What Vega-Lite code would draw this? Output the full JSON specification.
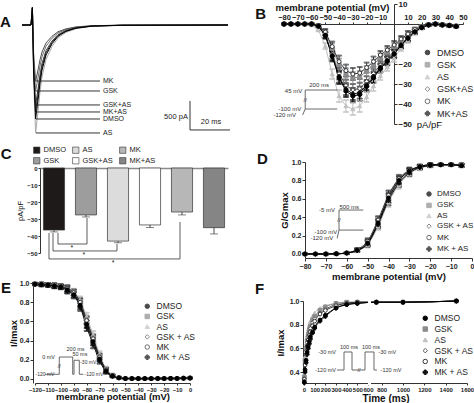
{
 "$schema": "https://vega.github.io/schema/vega-lite/v6.json",
 "padding": 0,
 "background": "white",
 "columns": 2,
 "spacing": 0,
 "bounds": "flush",
 "resolve": {
  "scale": {"x": "independent", "y": "independent", "stroke": "independent", "fill": "independent", "shape": "independent", "color": "independent"},
  "legend": {"stroke": "independent", "fill": "independent", "shape": "independent", "color": "independent"}
 },
 "config": {
  "font": "Liberation Sans",
  "view": {"stroke": null},
  "axis": {"grid": false, "labelFlush": false, "labelOverlap": false, "labelBound": false, "domainColor": "#333", "tickColor": "#333", "labelColor": "#222", "titleColor": "#111", "labelFontSize": 7, "labelFontWeight": "bold", "tickSize": 3, "labelPadding": 1, "titleFontSize": 9.5, "titleFontWeight": "bold"},
  "legend": {"labelColor": "#222", "symbolStrokeWidth": 1, "labelFontWeight": "normal"},
  "text": {"font": "Liberation Sans"}
 },
 "concat": [
  {
   "width": 237, "height": 134,
   "layer": [
    {
     "data": {"values": [
      {"t":0,"MK":0,"GSK":0,"GSK+AS":0,"MK+AS":0,"DMSO":0,"AS":0},
      {"t":4.5,"MK":0,"GSK":0,"GSK+AS":0,"MK+AS":0,"DMSO":0,"AS":0},
      {"t":5.2,"MK":300,"GSK":300,"GSK+AS":300,"MK+AS":300,"DMSO":300,"AS":300},
      {"t":5.8,"MK":-485,"GSK":-570,"GSK+AS":-690,"MK+AS":-750,"DMSO":-810,"AS":-930},
      {"t":6.8,"MK":-970,"GSK":-1140,"GSK+AS":-1380,"MK+AS":-1500,"DMSO":-1620,"AS":-1860},
      {"t":8,"MK":-776,"GSK":-912,"GSK+AS":-1104,"MK+AS":-1200,"DMSO":-1296,"AS":-1488},
      {"t":9,"MK":-601,"GSK":-707,"GSK+AS":-856,"MK+AS":-930,"DMSO":-1004,"AS":-1153},
      {"t":10,"MK":-466,"GSK":-547,"GSK+AS":-662,"MK+AS":-720,"DMSO":-778,"AS":-893},
      {"t":12,"MK":-310,"GSK":-365,"GSK+AS":-442,"MK+AS":-480,"DMSO":-518,"AS":-595},
      {"t":15,"MK":-194,"GSK":-228,"GSK+AS":-276,"MK+AS":-300,"DMSO":-324,"AS":-372},
      {"t":18,"MK":-116,"GSK":-137,"GSK+AS":-166,"MK+AS":-180,"DMSO":-194,"AS":-223},
      {"t":22,"MK":-66,"GSK":-78,"GSK+AS":-94,"MK+AS":-102,"DMSO":-110,"AS":-126},
      {"t":27,"MK":-33,"GSK":-39,"GSK+AS":-47,"MK+AS":-51,"DMSO":-55,"AS":-63},
      {"t":35,"MK":-12,"GSK":-14,"GSK+AS":-17,"MK+AS":-18,"DMSO":-19,"AS":-22},
      {"t":50,"MK":-3,"GSK":-3,"GSK+AS":-4,"MK+AS":-5,"DMSO":-5,"AS":-6},
      {"t":103,"MK":0,"GSK":0,"GSK+AS":0,"MK+AS":0,"DMSO":0,"AS":0}
     ]},
     "transform": [{"fold": ["AS","GSK","MK","GSK+AS","MK+AS","DMSO"], "as": ["g","i"]}],
     "mark": {"type": "line", "strokeWidth": 1},
     "encoding": {
      "x": {"field": "t", "type": "quantitative", "scale": {"domain": [0,103], "range": [22,228], "nice": false, "zero": false}, "axis": null},
      "y": {"field": "i", "type": "quantitative", "scale": {"domain": [-1897,345], "range": [133,3], "nice": false, "zero": false}, "axis": null},
      "stroke": {"field": "g", "type": "nominal", "scale": {"domain": ["AS","GSK","MK","GSK+AS","MK+AS","DMSO"], "range": ["#a8a8a8","#707070","#505050","#404040","#202020","#000000"]}, "legend": null}
     }
    },
    {
     "data": {"values": [{"g":"MK","p":-966},{"g":"GSK","p":-1138},{"g":"GSK+AS","p":-1379},{"g":"MK+AS","p":-1500},{"g":"DMSO","p":-1621},{"g":"AS","p":-1862}]},
     "layer": [
      {"mark": {"type": "rule", "color": "#333", "strokeWidth": 1},
       "encoding": {"x": {"datum": 7, "type": "quantitative"}, "x2": {"datum": 39}, "y": {"field": "p", "type": "quantitative"}}},
      {"mark": {"type": "text", "align": "left", "baseline": "middle", "fontSize": 7, "color": "#222"},
       "encoding": {"x": {"datum": 40.5, "type": "quantitative"}, "y": {"field": "p", "type": "quantitative"}, "text": {"field": "g"}}}
     ]
    },
    {
     "data": {"values": [{"x":84,"x2":84,"y":-1310,"y2":-1810},{"x":84,"x2":104,"y":-1810,"y2":-1810}]},
     "mark": {"type": "rule", "color": "#333", "strokeWidth": 1},
     "encoding": {"x": {"field": "x", "type": "quantitative"}, "x2": {"field": "x2"}, "y": {"field": "y", "type": "quantitative"}, "y2": {"field": "y2"}}
    },
    {
     "data": {"values": [{"x":77,"y":-1586,"s":"500 pA"},{"x":94.5,"y":-1672,"s":"20 ms"}]},
     "mark": {"type": "text", "fontSize": 7.5, "color": "#222", "baseline": "middle"},
     "encoding": {"x": {"field": "x", "type": "quantitative"}, "y": {"field": "y", "type": "quantitative"}, "text": {"field": "s"}}
    },
    {
     "data": {"values": [{}]},
     "mark": {"type": "text", "text": "A", "fontSize": 15, "fontWeight": "bold", "align": "left", "baseline": "alphabetic", "color": "#111"},
     "encoding": {"x": {"datum": -11, "type": "quantitative"}, "y": {"datum": -34.5, "type": "quantitative"}}
    }
   ]
  },
  {
   "width": 237, "height": 134,
   "layer": [
    {
     "data": {"values": [
      {"v":-80,"DMSO":0,"GSK":0,"AS":0,"GSK+AS":0,"MK":0,"MK+AS":0,"e":0.3},
      {"v":-75,"DMSO":0,"GSK":0,"AS":0,"GSK+AS":0,"MK":0,"MK+AS":0,"e":0.3},
      {"v":-70,"DMSO":0,"GSK":0,"AS":0,"GSK+AS":0,"MK":0,"MK+AS":0,"e":0.3},
      {"v":-65,"DMSO":0,"GSK":0,"AS":0,"GSK+AS":0,"MK":0,"MK+AS":0,"e":0.3},
      {"v":-60,"DMSO":0,"GSK":0,"AS":-0.5,"GSK+AS":0,"MK":0,"MK+AS":0,"e":0.4},
      {"v":-55,"DMSO":-1.1,"GSK":-0.8,"AS":-3,"GSK+AS":-1,"MK":-0.8,"MK+AS":-1,"e":0.6},
      {"v":-50,"DMSO":-5.8,"GSK":-4.3,"AS":-11,"GSK+AS":-5.3,"MK":-4,"MK+AS":-5.6,"e":1.5},
      {"v":-45,"DMSO":-16.2,"GSK":-12.2,"AS":-25,"GSK+AS":-14.9,"MK":-11.3,"MK+AS":-15.8,"e":2.5},
      {"v":-40,"DMSO":-27,"GSK":-20.3,"AS":-36,"GSK+AS":-24.8,"MK":-18.8,"MK+AS":-26.3,"e":3},
      {"v":-35,"DMSO":-33.5,"GSK":-25.1,"AS":-41,"GSK+AS":-30.7,"MK":-23.3,"MK+AS":-32.6,"e":3},
      {"v":-30,"DMSO":-36,"GSK":-27,"AS":-42.5,"GSK+AS":-33,"MK":-25,"MK+AS":-35,"e":3},
      {"v":-25,"DMSO":-35.3,"GSK":-26.5,"AS":-41,"GSK+AS":-32.3,"MK":-24.5,"MK+AS":-34.3,"e":3},
      {"v":-20,"DMSO":-31.3,"GSK":-23.5,"AS":-36.5,"GSK+AS":-28.7,"MK":-21.8,"MK+AS":-30.5,"e":2.5},
      {"v":-15,"DMSO":-27,"GSK":-20.3,"AS":-31,"GSK+AS":-24.8,"MK":-18.8,"MK+AS":-26.3,"e":2.5},
      {"v":-10,"DMSO":-22.3,"GSK":-16.7,"AS":-26,"GSK+AS":-20.5,"MK":-15.5,"MK+AS":-21.7,"e":2},
      {"v":-5,"DMSO":-18.7,"GSK":-14,"AS":-21.5,"GSK+AS":-17.2,"MK":-13,"MK+AS":-18.2,"e":2},
      {"v":0,"DMSO":-15.1,"GSK":-11.3,"AS":-17,"GSK+AS":-13.9,"MK":-10.5,"MK+AS":-14.7,"e":2},
      {"v":5,"DMSO":-10.8,"GSK":-8.1,"AS":-12,"GSK+AS":-9.9,"MK":-7.5,"MK+AS":-10.5,"e":1.5},
      {"v":10,"DMSO":-7.2,"GSK":-5.4,"AS":-8,"GSK+AS":-6.6,"MK":-5,"MK+AS":-7,"e":1.5},
      {"v":15,"DMSO":-4,"GSK":-3,"AS":-4.5,"GSK+AS":-3.6,"MK":-2.8,"MK+AS":-3.9,"e":1},
      {"v":20,"DMSO":-1.8,"GSK":-1.4,"AS":-2,"GSK+AS":-1.7,"MK":-1.3,"MK+AS":-1.8,"e":0.7},
      {"v":25,"DMSO":-0.5,"GSK":-0.4,"AS":-0.5,"GSK+AS":-0.4,"MK":-0.4,"MK+AS":-0.5,"e":0.5},
      {"v":30,"DMSO":0,"GSK":0,"AS":0,"GSK+AS":0,"MK":0,"MK+AS":0,"e":0.5},
      {"v":35,"DMSO":-0.5,"GSK":-0.4,"AS":-0.5,"GSK+AS":-0.4,"MK":-0.4,"MK+AS":-0.5,"e":0.5},
      {"v":40,"DMSO":-0.8,"GSK":-0.7,"AS":-0.8,"GSK+AS":-0.7,"MK":-0.7,"MK+AS":-0.8,"e":0.5},
      {"v":45,"DMSO":-1.2,"GSK":-1,"AS":-1.2,"GSK+AS":-1,"MK":-1,"MK+AS":-1.2,"e":0.5}
     ]},
     "transform": [{"fold": ["AS","GSK","GSK+AS","MK","MK+AS","DMSO"], "as": ["g","i"]}],
     "encoding": {
      "x": {"field": "v", "type": "quantitative", "scale": {"domain": [-80,50], "range": [47,226], "nice": false, "zero": false},
            "axis": {"orient": "top", "offset": -22, "values": [-80,-70,-60,-50,-40,-30,-20,-10,10,20,30,40,50], "tickCount": 40, "labelOverlap": false, "labelFontSize": 7.5, "tickSize": 2, "title": "membrane potential (mV)", "titleFontSize": 9.5, "titlePadding": 1, "titleX": 95}},
      "y": {"field": "i", "type": "quantitative", "scale": {"domain": [-50,10], "range": [122,2], "nice": false, "zero": false},
            "axis": {"orient": "right", "offset": -80, "values": [-50,-40,-30,-20,10], "tickCount": 40, "labelOverlap": false, "labelFontSize": 8, "tickSize": 3, "title": "pA/pF", "titleAngle": 0, "titleFontWeight": "normal", "titleFontSize": 9.5, "titleX": 35, "titleY": 122, "titleAlign": "center", "titleBaseline": "middle"}},
      "stroke": {"field": "g", "type": "nominal", "scale": {"domain": ["DMSO","GSK","AS","GSK+AS","MK","MK+AS"], "range": ["#000000","#8c8c8c","#c0c0c0","#5a5a5a","#333333","#111111"]},
                 "legend": {"title": null, "orient": "none", "legendX": 186, "legendY": 46, "labelFontSize": 9, "symbolSize": 22, "rowPadding": 2.2, "labelOffset": 5}}
     },
     "layer": [
      {"mark": {"type": "errorbar", "ticks": true}, "encoding": {"yError": {"field": "e"}}},
      {"mark": {"type": "line", "strokeWidth": 1}},
      {"mark": {"type": "point", "size": 16, "strokeWidth": 1, "opacity": 1, "filled": true},
       "encoding": {
        "fill": {"field": "g", "type": "nominal", "scale": {"domain": ["DMSO","GSK","AS","GSK+AS","MK","MK+AS"], "range": ["#000000","#8c8c8c","#c0c0c0","#ffffff","#ffffff","#111111"]},
                 "legend": {"title": null, "orient": "none", "legendX": 186, "legendY": 46, "labelFontSize": 9, "symbolSize": 22, "rowPadding": 2.2, "labelOffset": 5}},
        "shape": {"field": "g", "type": "nominal", "scale": {"domain": ["DMSO","GSK","AS","GSK+AS","MK","MK+AS"], "range": ["circle","square","triangle-up","diamond","circle","cross"]},
                 "legend": {"title": null, "orient": "none", "legendX": 186, "legendY": 46, "labelFontSize": 9, "symbolSize": 22, "rowPadding": 2.2, "labelOffset": 5}}
       }}
     ]
    },
    {
     "data": {"values": [{"x":-64.6,"x2":-64.6,"y":-33,"y2":-42.5},{"x":-64.6,"x2":-41.4,"y":-33,"y2":-33},{"x":-64.6,"x2":-41.4,"y":-42.5,"y2":-42.5},{"x":-66.5,"x2":-64.6,"y":-45.5,"y2":-42.5}]},
     "mark": {"type": "rule", "color": "#444", "strokeWidth": 0.8},
     "encoding": {"x": {"field": "x", "type": "quantitative"}, "x2": {"field": "x2"}, "y": {"field": "y", "type": "quantitative"}, "y2": {"field": "y2"}}
    },
    {
     "data": {"values": [{"x":-66.8,"y":-33.5,"s":"45 mV"},{"x":-67.5,"y":-42.5,"s":"-100 mV"},{"x":-71.2,"y":-45.5,"s":"-120 mV"}]},
     "mark": {"type": "text", "align": "right", "baseline": "middle", "fontSize": 6, "color": "#333"},
     "encoding": {"x": {"field": "x", "type": "quantitative"}, "y": {"field": "y", "type": "quantitative"}, "text": {"field": "s"}}
    },
    {
     "data": {"values": [{"x":-54.5,"y":-30.5,"s":"200 ms"},{"x":-64.6,"y":-37.8,"s":"//"}]},
     "mark": {"type": "text", "align": "center", "baseline": "middle", "fontSize": 6, "color": "#333"},
     "encoding": {"x": {"field": "x", "type": "quantitative"}, "y": {"field": "y", "type": "quantitative"}, "text": {"field": "s"}}
    },
    {
     "data": {"values": [{}]},
     "mark": {"type": "text", "text": "B", "fontSize": 15, "fontWeight": "bold", "align": "left", "baseline": "alphabetic", "color": "#111"},
     "encoding": {"x": {"datum": -100.9, "type": "quantitative"}, "y": {"datum": 2.5, "type": "quantitative"}}
    }
   ]
  },
  {
   "width": 237, "height": 134,
   "layer": [
    {
     "data": {"values": [{"g":"DMSO","m":-36.5,"lo":-37.6},{"g":"GSK","m":-27.6,"lo":-28.8},{"g":"AS","m":-43,"lo":-44},{"g":"GSK+AS","m":-33.5,"lo":-35},{"g":"MK","m":-25.9,"lo":-27.6},{"g":"MK+AS","m":-35.1,"lo":-38.8}]},
     "encoding": {
      "x": {"field": "g", "type": "nominal", "sort": ["DMSO","GSK","AS","GSK+AS","MK","MK+AS"], "scale": {"range": [40,228], "paddingInner": 0.34, "paddingOuter": 0.107},
            "axis": {"orient": "top", "offset": -32, "labels": false, "ticks": false, "title": null, "domainColor": "#8a8a8a", "domainWidth": 1.5}}
     },
     "layer": [
      {"mark": {"type": "bar", "stroke": "#333", "strokeWidth": 0.7},
       "encoding": {
        "y": {"field": "m", "type": "quantitative", "scale": {"domain": [-50,0], "range": [117,32], "nice": false, "zero": false},
              "axis": {"orient": "left", "offset": -40, "values": [-50,-40,-30,-20,-10,0], "tickCount": 40, "labelOverlap": false, "labelFontSize": 6, "tickSize": 2, "title": "pA/pF", "titleFontSize": 7.5, "titleFontWeight": "normal", "titlePadding": 2}},
        "fill": {"field": "g", "type": "nominal", "scale": {"domain": ["DMSO","GSK","AS","GSK+AS","MK","MK+AS"], "range": ["#1e1a19","#9d9d9d","#dcdcdc","#ffffff","#b7b7b7","#858585"]},
                 "legend": {"title": null, "orient": "none", "legendX": 33, "legendY": 10, "columns": 3, "symbolType": "square", "symbolSize": 40, "symbolStrokeColor": "#333", "symbolStrokeWidth": 0.6, "labelFontSize": 7.5, "columnPadding": 5, "rowPadding": 1, "labelOffset": 3}}
       }},
      {"mark": {"type": "rule", "color": "#222", "strokeWidth": 0.8},
       "encoding": {"y": {"field": "m", "type": "quantitative"}, "y2": {"field": "lo"}}},
      {"mark": {"type": "tick", "color": "#222", "thickness": 0.8, "size": 8},
       "encoding": {"y": {"field": "lo", "type": "quantitative"}}}
     ]
    },
    {
     "data": {"values": [
      {"x":0.574,"x2":0.574,"y":-38.2,"y2":-44.7},{"x":0.574,"x2":1.5,"y":-44.7,"y2":-44.7},{"x":1.5,"x2":1.5,"y":-44.7,"y2":-29.4},
      {"x":0.415,"x2":0.415,"y":-38.2,"y2":-48.8},{"x":0.415,"x2":2.457,"y":-48.8,"y2":-48.8},{"x":2.457,"x2":2.457,"y":-48.8,"y2":-44.7},
      {"x":0.287,"x2":0.287,"y":-38.2,"y2":-53.5},{"x":0.287,"x2":4.468,"y":-53.5,"y2":-53.5},{"x":4.468,"x2":4.468,"y":-53.5,"y2":-31.8}
     ]},
     "mark": {"type": "rule", "color": "#333", "strokeWidth": 0.8},
     "encoding": {"x": {"field": "x", "type": "quantitative", "scale": {"domain": [0,6], "range": [40,228], "nice": false, "zero": false}, "axis": null}, "x2": {"field": "x2"}, "y": {"field": "y", "type": "quantitative"}, "y2": {"field": "y2"}}
    },
    {
     "data": {"values": [{"x":1.02,"y":-47.3},{"x":1.4,"y":-51.2},{"x":2.33,"y":-55.8}]},
     "mark": {"type": "text", "fontSize": 7, "baseline": "middle", "color": "#222"},
     "encoding": {"x": {"field": "x", "type": "quantitative", "scale": {"domain": [0,6], "range": [40,228], "nice": false, "zero": false}, "axis": null}, "y": {"field": "y", "type": "quantitative"}, "text": {"value": "*"}}
    },
    {
     "data": {"values": [{}]},
     "mark": {"type": "text", "text": "C", "fontSize": 15, "fontWeight": "bold", "align": "left", "baseline": "alphabetic", "color": "#111"},
     "encoding": {"x": {"datum": -1.25, "type": "quantitative", "scale": {"domain": [0,6], "range": [40,228], "nice": false, "zero": false}, "axis": null}, "y": {"datum": 5.3, "type": "quantitative"}}
    }
   ],
   "resolve": {"scale": {"x": "independent"}}
  },
  {
   "width": 237, "height": 134,
   "layer": [
    {
     "data": {"values": [
      {"v":-80,"DMSO":0,"GSK":0,"AS":0,"GSK + AS":0,"MK":0,"MK + AS":0,"e":0.005},
      {"v":-75,"DMSO":0,"GSK":0,"AS":0,"GSK + AS":0,"MK":0,"MK + AS":0,"e":0.005},
      {"v":-70,"DMSO":0,"GSK":0,"AS":0,"GSK + AS":0,"MK":0,"MK + AS":0,"e":0.005},
      {"v":-65,"DMSO":0.002,"GSK":0.003,"AS":0.002,"GSK + AS":0.002,"MK":0.003,"MK + AS":0.002,"e":0.005},
      {"v":-60,"DMSO":0.01,"GSK":0.012,"AS":0.009,"GSK + AS":0.01,"MK":0.011,"MK + AS":0.01,"e":0.008},
      {"v":-55,"DMSO":0.04,"GSK":0.045,"AS":0.035,"GSK + AS":0.04,"MK":0.05,"MK + AS":0.038,"e":0.015},
      {"v":-50,"DMSO":0.12,"GSK":0.13,"AS":0.1,"GSK + AS":0.12,"MK":0.14,"MK + AS":0.11,"e":0.03},
      {"v":-45,"DMSO":0.34,"GSK":0.36,"AS":0.3,"GSK + AS":0.33,"MK":0.37,"MK + AS":0.32,"e":0.04},
      {"v":-40,"DMSO":0.61,"GSK":0.63,"AS":0.56,"GSK + AS":0.6,"MK":0.64,"MK + AS":0.58,"e":0.05},
      {"v":-35,"DMSO":0.8,"GSK":0.81,"AS":0.75,"GSK + AS":0.78,"MK":0.82,"MK + AS":0.77,"e":0.04},
      {"v":-30,"DMSO":0.9,"GSK":0.9,"AS":0.87,"GSK + AS":0.89,"MK":0.91,"MK + AS":0.88,"e":0.03},
      {"v":-25,"DMSO":0.95,"GSK":0.95,"AS":0.93,"GSK + AS":0.94,"MK":0.95,"MK + AS":0.94,"e":0.02},
      {"v":-20,"DMSO":0.97,"GSK":0.96,"AS":0.96,"GSK + AS":0.96,"MK":0.97,"MK + AS":0.96,"e":0.015},
      {"v":-15,"DMSO":0.97,"GSK":0.97,"AS":0.97,"GSK + AS":0.97,"MK":0.97,"MK + AS":0.97,"e":0.01},
      {"v":-10,"DMSO":0.97,"GSK":0.97,"AS":0.97,"GSK + AS":0.97,"MK":0.97,"MK + AS":0.97,"e":0.01},
      {"v":-5,"DMSO":0.96,"GSK":0.97,"AS":0.96,"GSK + AS":0.96,"MK":0.97,"MK + AS":0.96,"e":0.015}
     ]},
     "transform": [{"fold": ["AS","GSK","GSK + AS","MK","MK + AS","DMSO"], "as": ["g","i"]}],
     "encoding": {
      "x": {"field": "v", "type": "quantitative", "scale": {"domain": [-80,0], "range": [68,235], "nice": false, "zero": false},
            "axis": {"orient": "bottom", "offset": -12, "values": [-80,-70,-60,-50,-40,-30,-20,-10,0], "tickCount": 40, "labelOverlap": false, "title": "membrane potential (mV)", "titlePadding": 2}},
      "y": {"field": "i", "type": "quantitative", "scale": {"domain": [-0.0435,1], "range": [122,26], "nice": false, "zero": false},
            "axis": {"orient": "left", "offset": -68, "values": [0,0.2,0.4,0.6,0.8,1], "tickCount": 40, "labelOverlap": false, "format": ".1f", "title": "G/Gmax", "titlePadding": 2}},
      "stroke": {"field": "g", "type": "nominal", "scale": {"domain": ["DMSO","GSK","AS","GSK + AS","MK","MK + AS"], "range": ["#000000","#8c8c8c","#c0c0c0","#5a5a5a","#333333","#111111"]},
                 "legend": {"title": null, "orient": "none", "legendX": 188, "legendY": 54, "labelFontSize": 8, "symbolSize": 20, "rowPadding": 1.4, "labelOffset": 4}}
     },
     "layer": [
      {"mark": {"type": "errorbar", "ticks": true}, "encoding": {"yError": {"field": "e"}}},
      {"mark": {"type": "line", "strokeWidth": 1, "interpolate": "monotone"}},
      {"mark": {"type": "point", "size": 14, "strokeWidth": 1, "opacity": 1, "filled": true},
       "encoding": {
        "fill": {"field": "g", "type": "nominal", "scale": {"domain": ["DMSO","GSK","AS","GSK + AS","MK","MK + AS"], "range": ["#000000","#8c8c8c","#c0c0c0","#ffffff","#ffffff","#111111"]},
                 "legend": {"title": null, "orient": "none", "legendX": 188, "legendY": 54, "labelFontSize": 8, "symbolSize": 20, "rowPadding": 1.4, "labelOffset": 4}},
        "shape": {"field": "g", "type": "nominal", "scale": {"domain": ["DMSO","GSK","AS","GSK + AS","MK","MK + AS"], "range": ["circle","square","triangle-up","diamond","circle","cross"]},
                 "legend": {"title": null, "orient": "none", "legendX": 188, "legendY": 54, "labelFontSize": 8, "symbolSize": 20, "rowPadding": 1.4, "labelOffset": 4}}
       }}
     ]
    },
    {
     "data": {"values": [{"x":-63.7,"x2":-63.7,"y":0.478,"y2":0.26},{"x":-63.7,"x2":-52.1,"y":0.478,"y2":0.478},{"x":-63.7,"x2":-52.1,"y":0.26,"y2":0.26},{"x":-64.6,"x2":-63.7,"y":0.17,"y2":0.26}]},
     "mark": {"type": "rule", "color": "#444", "strokeWidth": 0.8},
     "encoding": {"x": {"field": "x", "type": "quantitative"}, "x2": {"field": "x2"}, "y": {"field": "y", "type": "quantitative"}, "y2": {"field": "y2"}}
    },
    {
     "data": {"values": [{"x":-65.6,"y":0.478,"s":"-5 mV"},{"x":-64.6,"y":0.24,"s":"-100 mV"},{"x":-66.5,"y":0.17,"s":"-120 mV"}]},
     "mark": {"type": "text", "align": "right", "baseline": "middle", "fontSize": 6, "color": "#333"},
     "encoding": {"x": {"field": "x", "type": "quantitative"}, "y": {"field": "y", "type": "quantitative"}, "text": {"field": "s"}}
    },
    {
     "data": {"values": [{"x":-58.8,"y":0.51,"s":"500 ms"},{"x":-63.7,"y":0.37,"s":"//"}]},
     "mark": {"type": "text", "align": "center", "baseline": "middle", "fontSize": 6, "color": "#333"},
     "encoding": {"x": {"field": "x", "type": "quantitative"}, "y": {"field": "y", "type": "quantitative"}, "text": {"field": "s"}}
    },
    {
     "data": {"values": [{}]},
     "mark": {"type": "text", "text": "D", "fontSize": 15, "fontWeight": "bold", "align": "left", "baseline": "alphabetic", "color": "#111"},
     "encoding": {"x": {"datum": -103, "type": "quantitative"}, "y": {"datum": 0.978, "type": "quantitative"}}
    }
   ]
  },
  {
   "width": 237, "height": 134,
   "layer": [
    {
     "data": {"values": [
      {"v":-120,"DMSO":0.99,"GSK":0.99,"AS":1.0,"GSK + AS":0.99,"MK":0.99,"MK + AS":0.985,"e":0.01},
      {"v":-115,"DMSO":0.985,"GSK":0.99,"AS":0.99,"GSK + AS":0.985,"MK":0.99,"MK + AS":0.98,"e":0.015},
      {"v":-110,"DMSO":0.98,"GSK":0.985,"AS":0.985,"GSK + AS":0.98,"MK":0.985,"MK + AS":0.975,"e":0.015},
      {"v":-105,"DMSO":0.97,"GSK":0.975,"AS":0.98,"GSK + AS":0.975,"MK":0.975,"MK + AS":0.965,"e":0.02},
      {"v":-100,"DMSO":0.96,"GSK":0.965,"AS":0.97,"GSK + AS":0.965,"MK":0.965,"MK + AS":0.955,"e":0.02},
      {"v":-95,"DMSO":0.93,"GSK":0.94,"AS":0.95,"GSK + AS":0.94,"MK":0.945,"MK + AS":0.92,"e":0.03},
      {"v":-90,"DMSO":0.88,"GSK":0.9,"AS":0.91,"GSK + AS":0.9,"MK":0.9,"MK + AS":0.87,"e":0.03},
      {"v":-85,"DMSO":0.77,"GSK":0.8,"AS":0.82,"GSK + AS":0.79,"MK":0.8,"MK + AS":0.75,"e":0.04},
      {"v":-80,"DMSO":0.57,"GSK":0.62,"AS":0.65,"GSK + AS":0.6,"MK":0.61,"MK + AS":0.54,"e":0.04},
      {"v":-75,"DMSO":0.39,"GSK":0.43,"AS":0.46,"GSK + AS":0.41,"MK":0.42,"MK + AS":0.36,"e":0.04},
      {"v":-70,"DMSO":0.21,"GSK":0.24,"AS":0.26,"GSK + AS":0.23,"MK":0.23,"MK + AS":0.19,"e":0.03},
      {"v":-65,"DMSO":0.085,"GSK":0.1,"AS":0.11,"GSK + AS":0.095,"MK":0.095,"MK + AS":0.075,"e":0.02},
      {"v":-60,"DMSO":0.032,"GSK":0.04,"AS":0.045,"GSK + AS":0.036,"MK":0.036,"MK + AS":0.027,"e":0.01},
      {"v":-55,"DMSO":0.012,"GSK":0.015,"AS":0.016,"GSK + AS":0.013,"MK":0.013,"MK + AS":0.01,"e":0.005},
      {"v":-50,"DMSO":0.005,"GSK":0.005,"AS":0.005,"GSK + AS":0.005,"MK":0.005,"MK + AS":0.005,"e":0.003},
      {"v":-45,"DMSO":0.004,"GSK":0.004,"AS":0.004,"GSK + AS":0.004,"MK":0.004,"MK + AS":0.004,"e":0.003},
      {"v":-40,"DMSO":0.004,"GSK":0.004,"AS":0.004,"GSK + AS":0.004,"MK":0.004,"MK + AS":0.004,"e":0.003},
      {"v":-35,"DMSO":0.004,"GSK":0.004,"AS":0.004,"GSK + AS":0.004,"MK":0.004,"MK + AS":0.004,"e":0.003},
      {"v":-30,"DMSO":0.004,"GSK":0.004,"AS":0.004,"GSK + AS":0.004,"MK":0.004,"MK + AS":0.004,"e":0.003},
      {"v":-25,"DMSO":0.005,"GSK":0.005,"AS":0.005,"GSK + AS":0.005,"MK":0.005,"MK + AS":0.005,"e":0.003},
      {"v":-20,"DMSO":0.005,"GSK":0.005,"AS":0.005,"GSK + AS":0.005,"MK":0.005,"MK + AS":0.005,"e":0.003},
      {"v":-15,"DMSO":0.006,"GSK":0.006,"AS":0.006,"GSK + AS":0.006,"MK":0.006,"MK + AS":0.006,"e":0.003},
      {"v":-10,"DMSO":0.006,"GSK":0.006,"AS":0.006,"GSK + AS":0.006,"MK":0.006,"MK + AS":0.006,"e":0.003},
      {"v":-5,"DMSO":0.008,"GSK":0.008,"AS":0.008,"GSK + AS":0.008,"MK":0.008,"MK + AS":0.008,"e":0.004},
      {"v":0,"DMSO":0.01,"GSK":0.01,"AS":0.01,"GSK + AS":0.01,"MK":0.01,"MK + AS":0.01,"e":0.004}
     ]},
     "transform": [{"fold": ["AS","GSK","GSK + AS","MK","MK + AS","DMSO"], "as": ["g","i"]}],
     "encoding": {
      "x": {"field": "v", "type": "quantitative", "scale": {"domain": [-120,0], "range": [35,190], "nice": false, "zero": false},
            "axis": {"orient": "bottom", "offset": -21, "values": [-120,-110,-100,-90,-80,-70,-60,-50,-40,-30,-20,-10,0], "tickCount": 40, "labelOverlap": false, "labelFontSize": 5.8, "tickSize": 2, "title": "membrane potential (mV)", "titlePadding": 0}},
      "y": {"field": "i", "type": "quantitative", "scale": {"domain": [-0.0417,1], "range": [113,13], "nice": false, "zero": false},
            "axis": {"orient": "left", "offset": -33, "values": [0,0.2,0.4,0.6,0.8,1], "tickCount": 40, "labelOverlap": false, "format": ".1f", "title": "I/Imax", "titlePadding": 1}},
      "stroke": {"field": "g", "type": "nominal", "scale": {"domain": ["DMSO","GSK","AS","GSK + AS","MK","MK + AS"], "range": ["#000000","#8c8c8c","#c0c0c0","#5a5a5a","#333333","#111111"]},
                 "legend": {"title": null, "orient": "none", "legendX": 143, "legendY": 32, "labelFontSize": 8.5, "symbolSize": 20, "rowPadding": 1.2, "labelOffset": 5}}
     },
     "layer": [
      {"mark": {"type": "errorbar", "ticks": true}, "encoding": {"yError": {"field": "e"}}},
      {"mark": {"type": "line", "strokeWidth": 1, "interpolate": "monotone"}},
      {"mark": {"type": "point", "size": 14, "strokeWidth": 1, "opacity": 1, "filled": true},
       "encoding": {
        "fill": {"field": "g", "type": "nominal", "scale": {"domain": ["DMSO","GSK","AS","GSK + AS","MK","MK + AS"], "range": ["#000000","#8c8c8c","#c0c0c0","#ffffff","#ffffff","#111111"]},
                 "legend": {"title": null, "orient": "none", "legendX": 143, "legendY": 32, "labelFontSize": 8.5, "symbolSize": 20, "rowPadding": 1.2, "labelOffset": 5}},
        "shape": {"field": "g", "type": "nominal", "scale": {"domain": ["DMSO","GSK","AS","GSK + AS","MK","MK + AS"], "range": ["circle","square","triangle-up","diamond","circle","cross"]},
                 "legend": {"title": null, "orient": "none", "legendX": 143, "legendY": 32, "labelFontSize": 8.5, "symbolSize": 20, "rowPadding": 1.2, "labelOffset": 5}}
       }}
     ]
    },
    {
     "data": {"values": [
      {"x":-112.3,"x2":-101.2,"y":0.049,"y2":0.049},{"x":-101.2,"x2":-101.2,"y":0.049,"y2":0.229},{"x":-101.2,"x2":-90.8,"y":0.229,"y2":0.229},
      {"x":-90.8,"x2":-90.8,"y":0.229,"y2":0.049},{"x":-90.8,"x2":-89.8,"y":0.049,"y2":0.049},{"x":-89.8,"x2":-89.8,"y":0.049,"y2":0.195},
      {"x":-89.8,"x2":-85.7,"y":0.195,"y2":0.195},{"x":-85.7,"x2":-85.7,"y":0.195,"y2":0.049},{"x":-85.7,"x2":-82.6,"y":0.049,"y2":0.049}
     ]},
     "mark": {"type": "rule", "color": "#444", "strokeWidth": 0.8},
     "encoding": {"x": {"field": "x", "type": "quantitative"}, "x2": {"field": "x2"}, "y": {"field": "y", "type": "quantitative"}, "y2": {"field": "y2"}}
    },
    {
     "data": {"values": [{"x":-104.5,"y":0.229,"s":"0 mV"}]},
     "mark": {"type": "text", "align": "right", "baseline": "middle", "fontSize": 5.5, "color": "#333"},
     "encoding": {"x": {"field": "x", "type": "quantitative"}, "y": {"field": "y", "type": "quantitative"}, "text": {"field": "s"}}
    },
    {
     "data": {"values": [{"x":-85,"y":0.177,"s":"-30 mV"},{"x":-81.7,"y":0.049,"s":"-120 mV"},{"x":-119.6,"y":0.049,"s":"-120 mV"}]},
     "mark": {"type": "text", "align": "left", "baseline": "middle", "fontSize": 5, "color": "#333"},
     "encoding": {"x": {"field": "x", "type": "quantitative"}, "y": {"field": "y", "type": "quantitative"}, "text": {"field": "s"}}
    },
    {
     "data": {"values": [{"x":-88.6,"y":0.316,"s":"200 ms"},{"x":-85.2,"y":0.26,"s":"50 ms"},{"x":-101.2,"y":0.14,"s":"//"}]},
     "mark": {"type": "text", "align": "center", "baseline": "middle", "fontSize": 5.5, "color": "#333"},
     "encoding": {"x": {"field": "x", "type": "quantitative"}, "y": {"field": "y", "type": "quantitative"}, "text": {"field": "s"}}
    },
    {
     "data": {"values": [{}]},
     "mark": {"type": "text", "text": "E", "fontSize": 15, "fontWeight": "bold", "align": "left", "baseline": "alphabetic", "color": "#111"},
     "encoding": {"x": {"datum": -146.3, "type": "quantitative"}, "y": {"datum": 0.896, "type": "quantitative"}}
    }
   ]
  },
  {
   "width": 237, "height": 134,
   "layer": [
    {
     "data": {"values": [
      {"t":3,"DMSO":0.32,"GSK":0.36,"AS":0.38,"GSK + AS":0.35,"MK":0.34,"MK + AS":0.31},
      {"t":10,"DMSO":0.42,"GSK":0.5,"AS":0.53,"GSK + AS":0.48,"MK":0.46,"MK + AS":0.4},
      {"t":20,"DMSO":0.5,"GSK":0.6,"AS":0.64,"GSK + AS":0.58,"MK":0.55,"MK + AS":0.48},
      {"t":30,"DMSO":0.57,"GSK":0.67,"AS":0.71,"GSK + AS":0.65,"MK":0.62,"MK + AS":0.55},
      {"t":40,"DMSO":0.62,"GSK":0.72,"AS":0.76,"GSK + AS":0.7,"MK":0.67,"MK + AS":0.6},
      {"t":50,"DMSO":0.66,"GSK":0.76,"AS":0.8,"GSK + AS":0.74,"MK":0.71,"MK + AS":0.64},
      {"t":60,"DMSO":0.7,"GSK":0.79,"AS":0.83,"GSK + AS":0.77,"MK":0.74,"MK + AS":0.68},
      {"t":80,"DMSO":0.74,"GSK":0.84,"AS":0.87,"GSK + AS":0.82,"MK":0.79,"MK + AS":0.73},
      {"t":100,"DMSO":0.78,"GSK":0.87,"AS":0.9,"GSK + AS":0.85,"MK":0.83,"MK + AS":0.77},
      {"t":150,"DMSO":0.84,"GSK":0.92,"AS":0.94,"GSK + AS":0.9,"MK":0.89,"MK + AS":0.83},
      {"t":200,"DMSO":0.88,"GSK":0.95,"AS":0.96,"GSK + AS":0.93,"MK":0.92,"MK + AS":0.87},
      {"t":300,"DMSO":0.94,"GSK":0.98,"AS":0.98,"GSK + AS":0.97,"MK":0.96,"MK + AS":0.94},
      {"t":400,"DMSO":0.97,"GSK":0.99,"AS":0.99,"GSK + AS":0.98,"MK":0.98,"MK + AS":0.97},
      {"t":500,"DMSO":0.98,"GSK":0.99,"AS":0.99,"GSK + AS":0.99,"MK":0.99,"MK + AS":0.98},
      {"t":750,"DMSO":0.99,"GSK":0.99,"AS":0.99,"GSK + AS":0.99,"MK":0.99,"MK + AS":0.99},
      {"t":1000,"DMSO":0.99,"GSK":0.99,"AS":0.99,"GSK + AS":0.99,"MK":0.99,"MK + AS":0.99},
      {"t":1500,"DMSO":1.0,"GSK":1.0,"AS":1.0,"GSK + AS":1.0,"MK":1.0,"MK + AS":1.0}
     ]},
     "transform": [{"fold": ["AS","GSK","GSK + AS","MK","MK + AS","DMSO"], "as": ["g","i"]}],
     "encoding": {
      "x": {"field": "t", "type": "quantitative", "scale": {"domain": [0,600,700,1600], "range": [67,131,134,230], "nice": false, "zero": false},
            "axis": {"orient": "bottom", "offset": -21, "values": [0,100,200,300,400,500,600,800,1000,1200,1400,1600], "tickCount": 40, "format": "d", "labelOverlap": false, "labelFontSize": 6, "tickSize": 2, "title": "Time (ms)", "titleFontSize": 10, "titlePadding": 1}},
      "y": {"field": "i", "type": "quantitative", "scale": {"domain": [0.3,1], "range": [114,31], "nice": false, "zero": false},
            "axis": {"orient": "left", "offset": -66, "values": [0.4,0.6,0.8,1], "tickCount": 40, "labelOverlap": false, "format": ".1f", "title": "I/Imax", "titlePadding": 4}},
      "stroke": {"field": "g", "type": "nominal", "scale": {"domain": ["DMSO","GSK","AS","GSK + AS","MK","MK + AS"], "range": ["#000000","#8c8c8c","#c0c0c0","#5a5a5a","#333333","#111111"]},
                 "legend": {"title": null, "orient": "none", "legendX": 184, "legendY": 44, "labelFontSize": 8.5, "symbolSize": 20, "rowPadding": 1.8, "labelOffset": 5}}
     },
     "layer": [
      {"mark": {"type": "line", "strokeWidth": 1, "interpolate": "monotone"}},
      {"mark": {"type": "point", "size": 14, "strokeWidth": 1, "opacity": 1, "filled": true},
       "encoding": {
        "fill": {"field": "g", "type": "nominal", "scale": {"domain": ["DMSO","GSK","AS","GSK + AS","MK","MK + AS"], "range": ["#000000","#8c8c8c","#c0c0c0","#ffffff","#ffffff","#111111"]},
                 "legend": {"title": null, "orient": "none", "legendX": 184, "legendY": 44, "labelFontSize": 8.5, "symbolSize": 20, "rowPadding": 1.8, "labelOffset": 5}},
        "shape": {"field": "g", "type": "nominal", "scale": {"domain": ["DMSO","GSK","AS","GSK + AS","MK","MK + AS"], "range": ["circle","square","triangle-up","diamond","circle","cross"]},
                 "legend": {"title": null, "orient": "none", "legendX": 184, "legendY": 44, "labelFontSize": 8.5, "symbolSize": 20, "rowPadding": 1.8, "labelOffset": 5}}
       }}
     ]
    },
    {
     "data": {"values": [{"x":600,"x2":700,"y":0.29,"y2":1.02}]},
     "mark": {"type": "rect", "color": "white", "opacity": 1},
     "encoding": {"x": {"field": "x", "type": "quantitative"}, "x2": {"field": "x2"}, "y": {"field": "y", "type": "quantitative"}, "y2": {"field": "y2"}}
    },
    {
     "data": {"values": [
      {"x":309,"x2":375,"y":0.418,"y2":0.418},{"x":375,"x2":375,"y":0.418,"y2":0.57},{"x":375,"x2":450,"y":0.57,"y2":0.57},
      {"x":450,"x2":450,"y":0.57,"y2":0.418},{"x":450,"x2":572,"y":0.418,"y2":0.418},{"x":572,"x2":572,"y":0.418,"y2":0.57},
      {"x":572,"x2":728,"y":0.57,"y2":0.57},{"x":728,"x2":728,"y":0.57,"y2":0.418},{"x":728,"x2":756,"y":0.418,"y2":0.418}
     ]},
     "mark": {"type": "rule", "color": "#444", "strokeWidth": 0.8},
     "encoding": {"x": {"field": "x", "type": "quantitative"}, "x2": {"field": "x2"}, "y": {"field": "y", "type": "quantitative"}, "y2": {"field": "y2"}}
    },
    {
     "data": {"values": [{"x":300,"y":0.57,"s":"-30 mV"},{"x":300,"y":0.418,"s":"-120 mV"}]},
     "mark": {"type": "text", "align": "right", "baseline": "middle", "fontSize": 5.5, "color": "#333"},
     "encoding": {"x": {"field": "x", "type": "quantitative"}, "y": {"field": "y", "type": "quantitative"}, "text": {"field": "s"}}
    },
    {
     "data": {"values": [{"x":770,"y":0.57,"s":"-30 mV"},{"x":790,"y":0.418,"s":"-120 mV"}]},
     "mark": {"type": "text", "align": "left", "baseline": "middle", "fontSize": 5.5, "color": "#333"},
     "encoding": {"x": {"field": "x", "type": "quantitative"}, "y": {"field": "y", "type": "quantitative"}, "text": {"field": "s"}}
    },
    {
     "data": {"values": [{"x":422,"y":0.612,"s":"100 ms"},{"x":700,"y":0.612,"s":"100 ms"},{"x":516,"y":0.418,"s":"//"}]},
     "mark": {"type": "text", "align": "center", "baseline": "middle", "fontSize": 5.5, "color": "#333"},
     "encoding": {"x": {"field": "x", "type": "quantitative"}, "y": {"field": "y", "type": "quantitative"}, "text": {"field": "s"}}
    },
    {
     "data": {"values": [{}]},
     "mark": {"type": "text", "text": "F", "fontSize": 15, "fontWeight": "bold", "align": "left", "baseline": "alphabetic", "color": "#111"},
     "encoding": {"x": {"datum": -459, "type": "quantitative"}, "y": {"datum": 1.059, "type": "quantitative"}}
    }
   ]
  }
 ]
}
